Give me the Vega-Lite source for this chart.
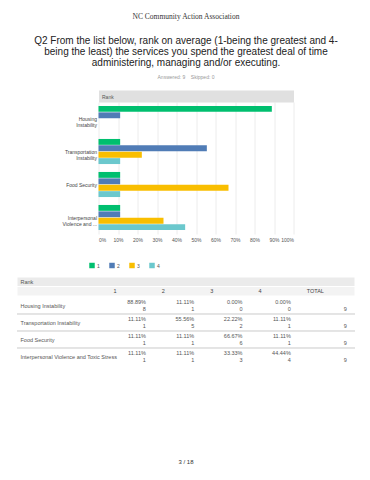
{
  "$schema": "https://vega.github.io/schema/vega-lite/v6.json",
  "padding": {"left": 16, "top": 12, "right": 10, "bottom": 5},
  "background": "white",
  "config": {"font": "Liberation Sans", "view": {"stroke": null}},
  "datasets": {
    "ranks": [
      {"item": "Housing Instability", "rank": "1", "share": 0.8889, "count": 8},
      {"item": "Housing Instability", "rank": "2", "share": 0.1111, "count": 1},
      {"item": "Housing Instability", "rank": "3", "share": 0, "count": 0},
      {"item": "Housing Instability", "rank": "4", "share": 0, "count": 0},
      {"item": "Transportation Instability", "rank": "1", "share": 0.1111, "count": 1},
      {"item": "Transportation Instability", "rank": "2", "share": 0.5556, "count": 5},
      {"item": "Transportation Instability", "rank": "3", "share": 0.2222, "count": 2},
      {"item": "Transportation Instability", "rank": "4", "share": 0.1111, "count": 1},
      {"item": "Food Security", "rank": "1", "share": 0.1111, "count": 1},
      {"item": "Food Security", "rank": "2", "share": 0.1111, "count": 1},
      {"item": "Food Security", "rank": "3", "share": 0.6667, "count": 6},
      {"item": "Food Security", "rank": "4", "share": 0.1111, "count": 1},
      {"item": "Interpersonal Violence and Toxic Stress", "rank": "1", "share": 0.1111, "count": 1},
      {"item": "Interpersonal Violence and Toxic Stress", "rank": "2", "share": 0.1111, "count": 1},
      {"item": "Interpersonal Violence and Toxic Stress", "rank": "3", "share": 0.3333, "count": 3},
      {"item": "Interpersonal Violence and Toxic Stress", "rank": "4", "share": 0.4444, "count": 4}
    ],
    "cols": [{"col": "1"}, {"col": "2"}, {"col": "3"}, {"col": "4"}, {"col": "TOTAL"}],
    "bands": [{"row": "Rank"}, {"row": "hdr"}]
  },
  "title": {"text": "NC Community Action Association", "font": "Liberation Serif", "fontSize": 7.5, "fontWeight": "normal", "color": "#333", "anchor": "middle", "offset": 16},
  "vconcat": [
    {
      "title": {
        "text": ["Q2 From the list below, rank on average (1-being the greatest and 4-", "being the least) the services you spend the greatest deal of time", "administering, managing and/or executing."],
        "subtitle": "Answered: 9\u00a0\u00a0\u00a0\u00a0Skipped: 0",
        "anchor": "middle", "font": "Liberation Sans", "fontSize": 10, "fontWeight": "normal", "color": "#222", "lineHeight": 11,
        "subtitleFont": "Liberation Sans", "subtitleFontSize": 5, "subtitleColor": "#999", "subtitlePadding": 7, "offset": 14
      },
      "spacing": 7,
      "vconcat": [
        {
          "spacing": 40.5,
          "resolve": {"scale": {"color": "independent"}, "legend": {"color": "independent"}},
          "hconcat": [
            {
              "width": 1,
              "height": 1,
              "data": {"values": []},
              "mark": {"type": "point"}
            },
            {
              "width": 195,
              "height": 132,
              "data": {"name": "ranks"},
              "resolve": {"axis": {"x": "independent"}},
              "layer": [
                {
                  "mark": {"type": "bar"},
                  "encoding": {
                    "y": {
                      "field": "item", "type": "nominal",
                      "sort": ["Housing Instability", "Transportation Instability", "Food Security", "Interpersonal Violence and Toxic Stress"],
                      "scale": {"paddingInner": 0.24, "paddingOuter": 0.12},
                      "axis": {
                        "title": null, "domain": false, "ticks": false, "labelFontSize": 5, "labelColor": "#444",
                        "labelPadding": 2, "labelLineHeight": 6, "minExtent": 40, "maxExtent": 40,
                        "labelExpr": "datum.value === 'Housing Instability' ? ['Housing', 'Instability'] : datum.value === 'Transportation Instability' ? ['Transportation', 'Instability'] : datum.value === 'Food Security' ? 'Food Security' : ['Interpersonal', 'Violence and ...']"
                      }
                    },
                    "yOffset": {"field": "rank", "type": "nominal", "scale": {"paddingInner": 0.08, "paddingOuter": 0}},
                    "x": {
                      "field": "share", "type": "quantitative", "scale": {"domain": [0, 1]},
                      "axis": {"title": null, "format": ".0%", "values": [0, 0.1, 0.2, 0.3, 0.4, 0.5, 0.6, 0.7, 0.8, 0.9, 1], "grid": true, "gridColor": "#ececec", "domain": false, "ticks": false, "labelFontSize": 5, "labelColor": "#555", "labelPadding": 3}
                    },
                    "color": {
                      "field": "rank", "type": "nominal",
                      "scale": {"domain": ["1", "2", "3", "4"], "range": ["#00bf6f", "#507cb6", "#f9be00", "#6bc8cd"]},
                      "legend": {"orient": "none", "legendX": -9.5, "legendY": 160.5, "direction": "horizontal", "title": null, "symbolType": "square", "symbolSize": 30, "symbolStrokeWidth": 0, "labelFontSize": 5, "labelColor": "#555", "labelOffset": 2, "columnPadding": 9, "padding": 0}
                    }
                  }
                },
                {
                  "data": {"values": []},
                  "mark": {"type": "rule"},
                  "encoding": {
                    "x": {
                      "field": "share", "type": "quantitative",
                      "axis": {"orient": "top", "labels": false, "ticks": false, "grid": false, "domain": true, "domainColor": "#e0e0e0", "domainWidth": 12, "domainCap": "butt", "offset": 6, "title": "Rank", "titleAnchor": "start", "titleAlign": "left", "titleBaseline": "middle", "titleX": 3, "titleY": 0, "titleFontSize": 5, "titleFontWeight": "normal", "titleColor": "#555"}
                    }
                  }
                }
              ]
            }
          ]
        },
        {
          "title": {"text": "3 / 18", "orient": "bottom", "anchor": "middle", "font": "Liberation Sans", "fontSize": 6, "fontWeight": "normal", "color": "#333", "offset": 94},
          "spacing": 0,
          "vconcat": [
            {
              "width": 338,
              "height": 19,
              "layer": [
                {
                  "data": {"name": "bands"},
                  "mark": {"type": "rect", "stroke": "white", "strokeWidth": 1},
                  "encoding": {
                    "y": {
                      "field": "row", "type": "nominal",
                      "scale": {"domain": ["Rank", "hdr"], "paddingInner": 0, "paddingOuter": 0},
                      "axis": {"title": null, "domain": false, "ticks": false, "labelAlign": "left", "labelPadding": -3, "labelFontSize": 5.5, "labelColor": "#555", "labelBaseline": "middle", "zindex": 1, "minExtent": 0, "labelExpr": "datum.value === 'Rank' ? 'Rank' : ''"}
                    },
                    "fill": {"condition": {"test": "datum.row === 'Rank'", "value": "#ebebeb"}, "value": "#f3f3f3"}
                  }
                },
                {
                  "data": {"name": "cols"},
                  "mark": {"type": "text", "align": "left", "baseline": "middle", "fontSize": 5.5, "color": "#444"},
                  "encoding": {
                    "x": {"field": "col", "type": "nominal", "bandPosition": 0, "scale": {"type": "band", "domain": ["1", "2", "3", "4", "TOTAL"], "paddingInner": 0, "paddingOuter": 2.043, "align": 1}, "axis": null},
                    "y": {"datum": "hdr"},
                    "text": {"field": "col"}
                  }
                }
              ]
            },
            {
              "width": 338,
              "height": 68,
              "data": {"name": "ranks"},
              "layer": [
                {
                  "transform": [{"filter": "datum.item !== 'Interpersonal Violence and Toxic Stress'"}],
                  "mark": {"type": "rule", "color": "#e3e3e3", "strokeWidth": 1},
                  "encoding": {
                    "y": {
                      "field": "item", "type": "nominal", "bandPosition": 1,
                      "scale": {"domain": ["Housing Instability", "Transportation Instability", "Food Security", "Interpersonal Violence and Toxic Stress"], "paddingInner": 0, "paddingOuter": 0},
                      "axis": {"title": null, "domain": false, "ticks": false, "labelAlign": "left", "labelPadding": -3, "labelFontSize": 5.5, "labelColor": "#555", "labelBaseline": "middle", "bandPosition": 0.31, "zindex": 1, "minExtent": 0}
                    }
                  }
                },
                {
                  "mark": {"type": "text", "align": "right", "baseline": "middle", "fontSize": 5.5, "color": "#555"},
                  "encoding": {
                    "x": {"field": "rank", "type": "nominal", "bandPosition": 0.67, "scale": {"type": "band", "domain": ["1", "2", "3", "4", "TOTAL"], "paddingInner": 0, "paddingOuter": 2.043, "align": 1}, "axis": null},
                    "y": {"field": "item", "type": "nominal", "bandPosition": 0.31},
                    "text": {"field": "share", "type": "quantitative", "format": ".2%"}
                  }
                },
                {
                  "mark": {"type": "text", "align": "right", "baseline": "middle", "fontSize": 5.5, "color": "#555"},
                  "encoding": {
                    "x": {"field": "rank", "type": "nominal", "bandPosition": 0.67},
                    "y": {"field": "item", "type": "nominal", "bandPosition": 0.68},
                    "text": {"field": "count", "type": "quantitative"}
                  }
                },
                {
                  "mark": {"type": "text", "align": "right", "baseline": "middle", "fontSize": 5.5, "color": "#555"},
                  "encoding": {
                    "x": {"datum": "TOTAL", "bandPosition": 0.83},
                    "y": {"field": "item", "type": "nominal", "bandPosition": 0.68},
                    "text": {"aggregate": "sum", "field": "count", "type": "quantitative"}
                  }
                }
              ]
            }
          ]
        }
      ]
    }
  ]
}
